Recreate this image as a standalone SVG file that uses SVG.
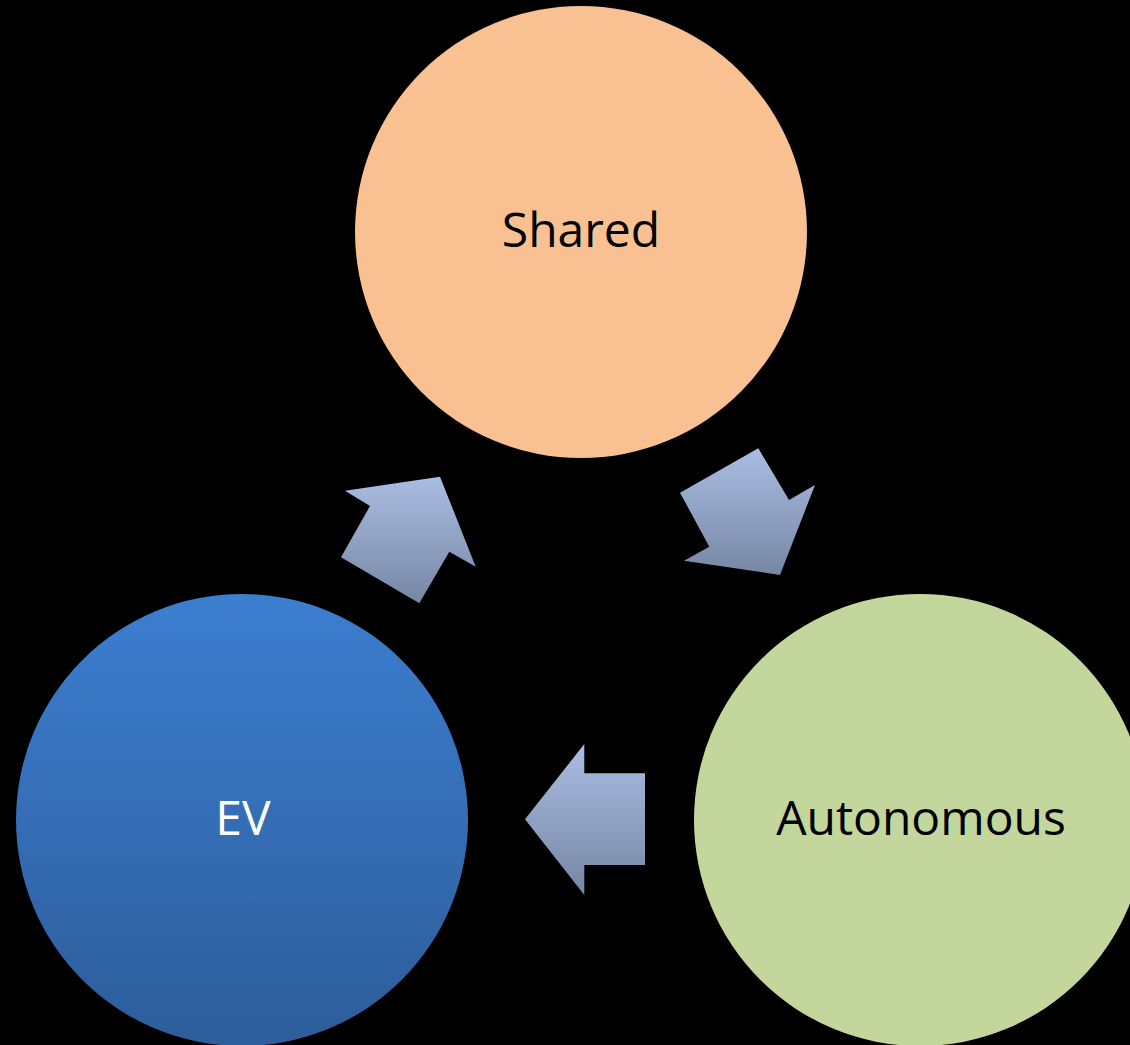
<svg xmlns="http://www.w3.org/2000/svg" width="1130" height="1045" viewBox="0 0 1130 1045">
<defs>
<linearGradient id="arrowGrad" x1="0" y1="0" x2="0" y2="1">
<stop offset="0" stop-color="#AABDE2"/>
<stop offset="1" stop-color="#7686A4"/>
</linearGradient>
<linearGradient id="evGrad" x1="0" y1="0" x2="0" y2="1">
<stop offset="0" stop-color="#3C7ED0"/>
<stop offset="1" stop-color="#2D5D9A"/>
</linearGradient>
</defs>
<style>
.lbl{font-family:"Open Sans","Liberation Sans",sans-serif;font-size:48px;text-anchor:middle}
.arrow{fill:url(#arrowGrad)}
</style>
<rect width="1130" height="1045" fill="#000000"/>
<g id="connectors">
<polygon class="arrow" points="345,490.7 440,476.7 475.7,566.7 449.3,551.7 419.3,603.3 341,557.3 370,506"/>
<polygon class="arrow" points="680,492.7 758.3,448.3 789,500 815,485 780,575 684,560.7 709.3,546.7"/>
<polygon class="arrow" points="525,819.3 584.3,744 584.3,773.3 645,773.3 645,865 584.3,865 584.3,895"/>
</g>
<g id="shared">
<circle cx="581" cy="232" r="226" fill="#F9C091"/>
<text class="lbl" x="581" y="247" fill="#000000">Shared</text>
</g>
<g id="ev">
<circle cx="242" cy="820" r="226" fill="url(#evGrad)"/>
<text class="lbl" x="243" y="835" fill="#FFFFFF">EV</text>
</g>
<g id="autonomous">
<circle cx="920" cy="820" r="226" fill="#C3D69B"/>
<text class="lbl" x="921" y="835" fill="#000000">Autonomous</text>
</g>
</svg>
